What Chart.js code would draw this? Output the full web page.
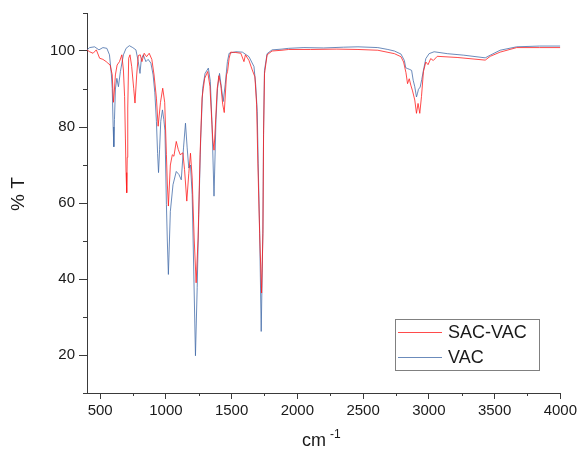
<!DOCTYPE html>
<html>
<head>
<meta charset="utf-8">
<script src="https://cdn.jsdelivr.net/npm/chart.js@4.4.1/dist/chart.umd.min.js"></script>
<style>
    html, body { margin: 0; padding: 0; background: #fff; }
    #wrap { width: 580px; height: 452px; }
</style>
</head>
<body>
<div id="wrap"><canvas id="grafico" width="580" height="452"></canvas></div>
<script>
/* Espectro FTIR: SAC-VAC x VAC */

const sacX = [400, 420, 446, 471, 496, 521, 546, 559, 576, 592, 601, 609, 616, 629, 647, 665, 677, 686, 692, 697,
    702, 706, 710, 717, 727, 740, 755, 765, 778, 790, 805, 818, 835, 853, 873, 893, 910, 928, 941, 959,
    976, 991, 1004, 1011, 1019, 1034, 1049, 1061, 1079, 1094, 1109, 1129, 1142, 1159, 1174, 1187, 1200, 1215, 1230, 1245,
    1260, 1275, 1295, 1318, 1335, 1356, 1366, 1376, 1390, 1403, 1418, 1432, 1444, 1461, 1469, 1481, 1493, 1532, 1570, 1594,
    1605, 1632, 1657, 1677, 1690, 1700, 1713, 1728, 1738, 1743, 1750, 1770, 1808, 1883, 1933, 2100, 2300, 2461, 2612, 2738,
    2788, 2808, 2826, 2838, 2851, 2863, 2876, 2893, 2906, 2918, 2931, 2944, 2959, 2977, 2994, 3014, 3034, 3064, 3215, 3429,
    3467, 3542, 3668, 3843, 4000];
const sacT = [100.3, 99.8, 99.4, 100.3, 98.1, 97.8, 97.2, 96.8, 96.3, 93.7, 86.5, 90, 93.7, 96.3, 97.2, 99.0, 95.0, 88, 77.1, 68,
    62.7, 72, 85, 98.1, 99.0, 95.9, 90.2, 86.3, 93.7, 98.8, 99.0, 97.2, 99.4, 98.5, 99.4, 97.8, 93.7, 87.6, 80.2, 86.5,
    90.2, 86.5, 72.7, 65, 59.2, 70.0, 72.7, 72.3, 76.2, 74.1, 72.7, 73.2, 68.8, 60.5, 67.7, 73.1, 66.6, 50.8, 39.0, 50.8,
    72.7, 87.6, 92.8, 94.6, 90.7, 77.1, 73.9, 80, 90, 93.5, 91, 86, 83.8, 93.7, 94.6, 98.1, 99.7, 99.6, 99.4, 97.2,
    99, 97.5, 95.0, 93.2, 86, 70, 52, 36.3, 52, 78, 94, 99.0, 100.0, 100.2, 100.4, 100.4, 100.5, 100.4, 100.2, 99.3,
    98.5, 97.1, 94.3, 91.4, 92.7, 91.0, 89.5, 87.1, 83.6, 86.2, 83.6, 88.0, 94.6, 97.1, 96.4, 98.0, 97.5, 98.6, 98.3, 97.6,
    98.6, 99.7, 100.9, 100.9, 100.9];

const vacX = [400, 420, 458, 491, 521, 551, 571, 585, 592, 599, 604, 609, 616, 627, 639, 654, 677, 697, 722, 748,
    772, 790, 803, 813, 828, 848, 865, 886, 903, 916, 928, 937, 944, 952, 961, 974, 984, 993, 1004, 1011,
    1019, 1027, 1034, 1054, 1079, 1099, 1117, 1134, 1149, 1162, 1174, 1187, 1200, 1212, 1225, 1238, 1250, 1265, 1280, 1298,
    1323, 1338, 1351, 1366, 1381, 1393, 1408, 1423, 1436, 1451, 1468, 1481, 1532, 1582, 1632, 1670, 1683, 1695, 1702, 1713,
    1725, 1738, 1743, 1750, 1770, 1808, 1883, 1933, 2050, 2200, 2350, 2461, 2612, 2688, 2738, 2788, 2814, 2824, 2836, 2851,
    2869, 2881, 2893, 2906, 2914, 2921, 2934, 2946, 2959, 2977, 3002, 3040, 3140, 3266, 3429, 3467, 3542, 3668, 3843, 4000];
const vacT = [100.3, 100.9, 101.1, 100.3, 100.9, 100.7, 99.0, 94, 90.2, 80, 74.8, 82, 90, 92.8, 90.6, 94.6, 99.0, 100.7, 101.4, 100.9,
    100.3, 97.2, 94.1, 97.8, 99.0, 97.2, 97.8, 96.8, 93.7, 89, 81.5, 73, 68.0, 74, 81.5, 84.5, 82, 79, 59.6, 50,
    41.2, 50, 57.8, 64.8, 68.3, 67.5, 66.1, 74.5, 81.0, 74.5, 69.2, 70.0, 62.2, 42.1, 19.8, 37.7, 57.0, 77.1, 90.2, 94.1,
    95.5, 92.0, 80.6, 61.8, 81.9, 90.2, 94.1, 90.2, 86.7, 91.1, 97.2, 99.4, 99.8, 99.7, 98.5, 95.9, 91.1, 84, 70.5, 52.9,
    26.2, 52.9, 79.2, 94.9, 99.3, 100.3, 100.5, 100.7, 100.9, 100.8, 101.0, 101.1, 100.9, 100.4, 100.0, 99.2, 97.5, 95.6, 95.4, 95.2,
    94.9, 92.3, 90.6, 87.9, 88.9, 89.9, 90.5, 92.5, 94.9, 98.0, 99.3, 99.8, 99.3, 98.9, 98.2, 98.9, 100.2, 101.1, 101.3, 101.3];

const xTicks = [500, 1000, 1500, 2000, 2500, 3000, 3500, 4000];
const xMinor = [750, 1250, 1750, 2250, 2750, 3250, 3750];
const yTicks = [20, 40, 60, 80, 100];
const yMinor = [10, 30, 50, 70, 90, 110];

const corEixo = '#3a3a3a';
const corTexto = '#1a1a1a';
const fonte = 'Arial, "Liberation Sans", sans-serif';

// Ticks menores, títulos dos eixos e legenda
const extras = {
    id: 'extras',
    afterDraw(chart) {
        const { ctx, chartArea, scales } = chart;
        const sx = scales.x, sy = scales.y;
        ctx.save();
        ctx.strokeStyle = corEixo;
        ctx.lineWidth = 1;
        ctx.beginPath();
        xMinor.forEach(v => {
            const p = Math.round(sx.getPixelForValue(v)) + 0.5;
            ctx.moveTo(p, chartArea.bottom);
            ctx.lineTo(p, chartArea.bottom + 3);
        });
        yMinor.forEach(v => {
            const p = Math.round(sy.getPixelForValue(v)) + 0.5;
            ctx.moveTo(chartArea.left, p);
            ctx.lineTo(chartArea.left - 4, p);
        });
        ctx.stroke();

        // título x: cm^-1
        ctx.fillStyle = corTexto;
        ctx.textBaseline = 'alphabetic';
        ctx.textAlign = 'left';
        ctx.font = '18px ' + fonte;
        ctx.fillText('cm', 302, 446);
        ctx.font = '12px ' + fonte;
        ctx.fillText('-1', 330, 438);

        // título y
        ctx.save();
        ctx.translate(24, 194);
        ctx.rotate(-Math.PI / 2);
        ctx.textAlign = 'center';
        ctx.font = '19px ' + fonte;
        ctx.fillText('% T', 0, 0);
        ctx.restore();

        // legenda
        ctx.strokeStyle = '#808080';
        ctx.strokeRect(395.5, 319.5, 144, 51);
        chart.data.datasets.forEach((ds, i) => {
            const y = 332 + i * 25;
            ctx.strokeStyle = ds.borderColor;
            ctx.beginPath();
            ctx.moveTo(398, y + 0.5);
            ctx.lineTo(442, y + 0.5);
            ctx.stroke();
            ctx.fillStyle = corTexto;
            ctx.font = '18px ' + fonte;
            ctx.textAlign = 'left';
            ctx.textBaseline = 'middle';
            ctx.fillText(ds.label, 448, y + 1);
        });
        ctx.restore();
    }
};

new Chart(document.getElementById('grafico'), {
    type: 'line',
    data: {
        datasets: [{
            label: 'SAC-VAC',
            data: sacX.map((x, i) => ({ x: x, y: sacT[i] })),
            borderColor: 'rgba(255, 30, 30, 0.8)',
            borderWidth: 1,
            pointRadius: 0,
            tension: 0
        }, {
            label: 'VAC',
            data: vacX.map((x, i) => ({ x: x, y: vacT[i] })),
            borderColor: 'rgba(70, 110, 170, 0.8)',
            borderWidth: 1,
            pointRadius: 0,
            tension: 0
        }]
    },
    options: {
        responsive: false,
        animation: false,
        devicePixelRatio: 1,
        layout: { padding: { left: 0, top: 12, right: 18, bottom: 0 } },
        plugins: {
            legend: { display: false },
            tooltip: { enabled: false }
        },
        scales: {
            x: {
                type: 'linear',
                min: 400,
                max: 4000,
                afterFit: s => { s.height = 59; },
                afterBuildTicks: s => { s.ticks = xTicks.map(v => ({ value: v })); },
                grid: { drawOnChartArea: false, drawTicks: true, tickLength: 6, color: corEixo },
                border: { display: true, color: corEixo, width: 1 },
                ticks: {
                    color: corTexto,
                    font: { size: 15, family: fonte },
                    padding: 3,
                    maxRotation: 0,
                    callback: v => String(v)
                }
            },
            y: {
                min: 10,
                max: 110,
                afterFit: s => { s.width = 87; },
                afterBuildTicks: s => { s.ticks = yTicks.map(v => ({ value: v })); },
                grid: { drawOnChartArea: false, drawTicks: true, tickLength: 8, color: corEixo },
                border: { display: true, color: corEixo, width: 1 },
                ticks: { color: corTexto, font: { size: 15, family: fonte }, padding: 4, callback: v => String(v) }
            }
        }
    },
    plugins: [extras]
});
</script>
</body>
</html>
